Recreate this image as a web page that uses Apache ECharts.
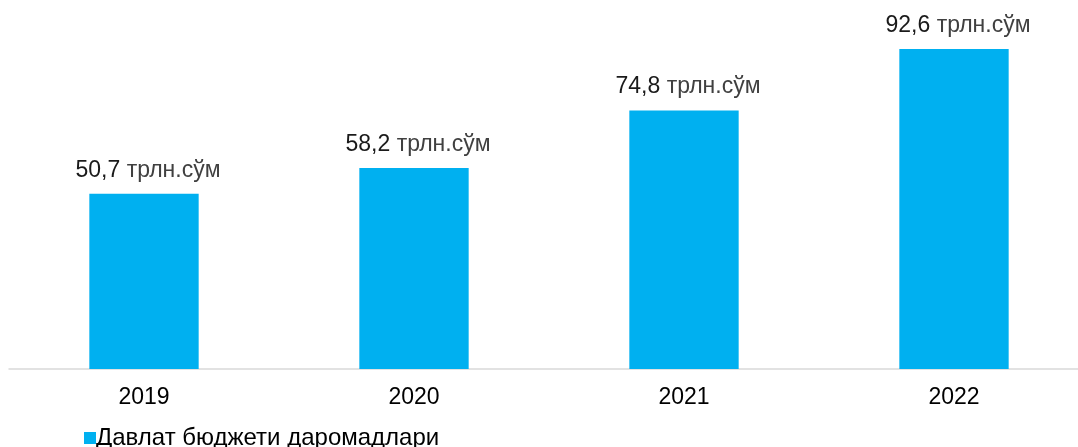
<!DOCTYPE html>
<html><head><meta charset="utf-8">
<script src="https://cdn.jsdelivr.net/npm/echarts@6/dist/echarts.min.js"></script>
<style>html,body{margin:0;padding:0;background:#fff;overflow:hidden}#c{width:1090px;height:447px}</style>
</head><body><div id="c"></div>
<script>
const categories = ['2019', '2020', '2021', '2022'];
const values = [50.7, 58.2, 74.8, 92.6];
const seriesName = 'Давлат бюджети даромадлари';
const unit = 'трлн.сўм';

const FONT = 'Liberation Sans, Arial, sans-serif';
const chart = echarts.init(document.getElementById('c'));
chart.setOption({
  animation: false,
  textStyle: { fontFamily: FONT },
  grid: { left: 9, width: 1080, top: 23.5, bottom: 78, containLabel: false },
  legend: {
    left: 79, top: 421, itemWidth: 12, itemHeight: 12, itemGap: 10,
    icon: 'rect',
    textStyle: { fontSize: 24, color: '#000', fontFamily: FONT, padding: [0, 0, 0, -5] },
    data: [seriesName]
  },
  xAxis: {
    type: 'category', data: categories,
    axisLine: { show: true, lineStyle: { color: '#d9d9d9', width: 1.5 } },
    axisTick: { show: false },
    axisLabel: { fontSize: 23, color: '#000', margin: 17 }
  },
  yAxis: {
    type: 'value', min: 0, max: 100,
    show: false, splitLine: { show: false }
  },
  series: [{
    name: seriesName, type: 'bar', data: values, barWidth: '40.5%',
    itemStyle: { color: '#00B0F0' },
    label: {
      show: true, position: 'top', distance: 12, offset: [4, 0],
      formatter: p => '{n|' + String(p.value).replace('.', ',') + ' }{u|' + unit + '}',
      rich: {
        n: { fontSize: 23, color: '#1a1a1a', fontFamily: FONT },
        u: { fontSize: 23, color: '#404040', fontFamily: FONT }
      }
    }
  }]
});
</script></body></html>
